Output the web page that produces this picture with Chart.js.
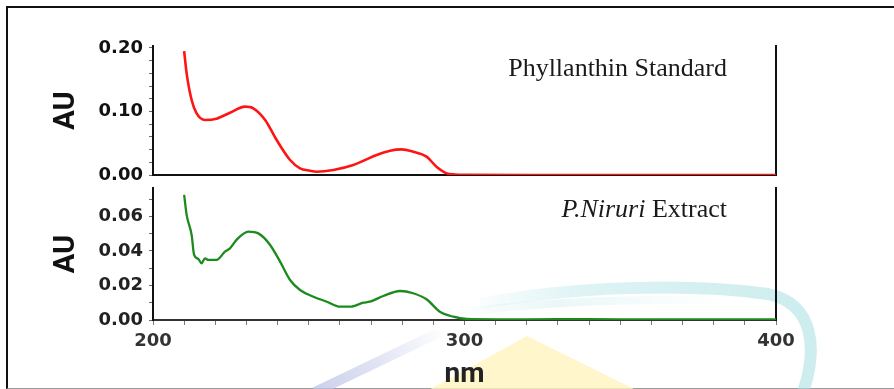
<!DOCTYPE html>
<html>
<head>
<meta charset="utf-8">
<script src="https://cdn.jsdelivr.net/npm/chart.js@4.4.1/dist/chart.umd.min.js"></script>
<style>
  html, body { margin: 0; padding: 0; background: #ffffff; }
  body { width: 894px; height: 389px; position: relative; overflow: hidden; }
  #frame { position: absolute; left: 6px; top: 6px; width: 900px; height: 383px;
           border-top: 2px solid #111; border-left: 2px solid #111; border-bottom: 1px solid #9a9a9a; box-sizing: border-box; }
  canvas { position: absolute; left: 0; top: 0; }
</style>
</head>
<body>
<div id="frame"></div>
<canvas id="bottom" width="894" height="389"></canvas>
<canvas id="top" width="894" height="389"></canvas>
<script>
// ---- data ----
const nmStandard = [210, 210.8, 212.4, 214, 216.7, 220.4, 224.7, 229.5, 232.2, 236, 239.7, 244, 247.2, 250.4, 252.5, 257.9, 264.3, 271.8, 276.1, 279.8, 283.5, 287.8, 291, 294.3, 297, 300, 320, 350, 380, 400];
const auStandard = [0.195, 0.160, 0.118, 0.097, 0.0866, 0.0887, 0.098, 0.1076, 0.105, 0.0866, 0.055, 0.0236, 0.0105, 0.0068, 0.0052, 0.0079, 0.0157, 0.0315, 0.0383, 0.0404, 0.0367, 0.0289, 0.0131, 0.0026, 0.0008, 0.0002, 0, 0, 0, 0];

const nmExtract = [210, 210.8, 212.4, 213.2, 214.5, 215.6, 216.7, 217.8, 220.4, 223.1, 224.7, 226.8, 230.6, 233.8, 237.6, 240.8, 244, 247.2, 251.5, 255.8, 260, 263.2, 267.5, 269.6, 273.9, 279.3, 283.5, 287.8, 292.1, 296.4, 300.7, 310, 320, 340, 360, 380, 400];
const auExtract = [0.0725, 0.0609, 0.0493, 0.0377, 0.0354, 0.0329, 0.0357, 0.0348, 0.0348, 0.0396, 0.0415, 0.0464, 0.0512, 0.0502, 0.0435, 0.0338, 0.0232, 0.0174, 0.0135, 0.0106, 0.0077, 0.0077, 0.0100, 0.0106, 0.0139, 0.0168, 0.0155, 0.0120, 0.0048, 0.0019, 0.0006, 0.0004, 0.0004, 0.0005, 0.0003, 0.0004, 0.0003];

const xLabeledTicks = [200, 300, 400];
const yLabeledTicksTop = [0, 0.10, 0.20];
const yLabeledTicksBottom = [0, 0.02, 0.04, 0.06];
const labelStandard = 'Phyllanthin Standard';
const labelExtractItalic = 'P.Niruri';
const labelExtractRest = ' Extract';
const xTitle = 'nm';
const yTitle = 'AU';

// ---- helpers ----
const toPoints = (xs, ys) => xs.map((x, i) => ({ x: x, y: ys[i] }));
const labelIf = (list, dec) => (v) => {
  const r = Math.round(v * 1000) / 1000;
  return list.some(t => Math.abs(t - r) < 1e-9) ? r.toFixed(dec) : '';
};
const tickFont = { family: 'DejaVu Sans', weight: 'bold', size: 18 };

function yAxis(max, step, labels, color) {
  return {
    type: 'linear', position: 'left', min: 0, max: max,
    afterFit: s => { s.width = 153; },
    ticks: { stepSize: step, includeBounds: false, maxTicksLimit: 40, autoSkip: false, padding: 6, color: color, font: tickFont, callback: labelIf(labels, 2) },
    grid: { display: true, drawOnChartArea: false, drawTicks: true, tickLength: 4, color: '#666', lineWidth: 1 },
    border: { display: true, color: '#111', width: 2 },
    title: { display: true, text: yTitle, color: '#111', font: { family: 'Roboto', weight: 'bold', size: 29, lineHeight: 1.2 }, padding: { top: 49, bottom: 0 } }
  };
}
function rightAxis() {
  return {
    type: 'linear', position: 'right', min: 0, max: 1,
    afterFit: s => { s.width = 118; },
    ticks: { display: false },
    grid: { display: false, drawTicks: false },
    border: { display: true, color: '#111', width: 2 }
  };
}

const annotate = (drawFn) => ({ id: 'annot', afterDraw(chart) { const c = chart.ctx; c.save(); drawFn(c, chart); c.restore(); } });

// watermark-like background shapes
const watermark = {
  id: 'watermark',
  beforeDraw(chart) {
    const c = chart.ctx;
    c.save();
    // yellow triangle
    c.fillStyle = 'rgba(255,244,190,0.8)';
    c.beginPath(); c.moveTo(527, 336); c.lineTo(640, 392); c.lineTo(425, 392); c.closePath(); c.fill();
    // lavender diagonal stroke
    const g = c.createLinearGradient(440, 332, 315, 392);
    g.addColorStop(0, 'rgba(205,210,236,0.05)');
    g.addColorStop(0.5, 'rgba(200,205,234,0.55)');
    g.addColorStop(1, 'rgba(190,196,230,0.8)');
    c.strokeStyle = g; c.lineWidth = 10; c.lineCap = 'butt';
    c.beginPath(); c.moveTo(440, 332); c.lineTo(315, 392); c.stroke();
    // teal arc
    const t = c.createLinearGradient(460, 0, 820, 0);
    t.addColorStop(0, 'rgba(180,228,230,0.0)');
    t.addColorStop(0.35, 'rgba(180,228,230,0.45)');
    t.addColorStop(1, 'rgba(170,224,226,0.6)');
    c.strokeStyle = t; c.lineWidth = 12;
    c.beginPath(); c.moveTo(480, 304); c.bezierCurveTo(570, 286, 690, 283, 768, 294);
    c.bezierCurveTo(815, 304, 818, 350, 802, 395); c.stroke();
    const t2 = c.createLinearGradient(450, 0, 720, 0);
    t2.addColorStop(0, 'rgba(195,232,234,0.0)');
    t2.addColorStop(0.4, 'rgba(195,232,234,0.35)');
    t2.addColorStop(1, 'rgba(195,232,234,0.0)');
    c.strokeStyle = t2; c.lineWidth = 8;
    c.beginPath(); c.moveTo(455, 313); c.bezierCurveTo(540, 302, 640, 299, 720, 300); c.stroke();
    c.restore();
  }
};

// ---- top panel ----
new Chart(document.getElementById('top'), {
  type: 'line',
  data: { datasets: [{ data: toPoints(nmStandard, auStandard), borderColor: '#ff1414', borderWidth: 2.6, pointRadius: 0, cubicInterpolationMode: 'monotone', fill: false }] },
  options: {
    responsive: false, animation: false, events: [],
    layout: { padding: { top: 46, bottom: 0, left: 0, right: 0 } },
    plugins: { legend: { display: false }, tooltip: { enabled: false } },
    scales: {
      x: { type: 'linear', min: 200, max: 400,
           afterFit: s => { s.height = 214; },
           ticks: { display: false }, grid: { display: false, drawTicks: false },
           border: { display: true, color: '#111', width: 2 } },
      y: yAxis(0.203, 0.02, yLabeledTicksTop, '#111'),
      yr: rightAxis()
    }
  },
  plugins: [annotate((c) => {
    c.fillStyle = '#1a1a1a';
    c.font = '26px "Liberation Serif"';
    c.textAlign = 'right'; c.textBaseline = 'alphabetic';
    c.fillText(labelStandard, 727, 76);
  })]
});

// ---- bottom panel ----
new Chart(document.getElementById('bottom'), {
  type: 'line',
  data: { datasets: [{ data: toPoints(nmExtract, auExtract), borderColor: '#1c8a1c', borderWidth: 2.3, pointRadius: 0, cubicInterpolationMode: 'monotone', fill: false }] },
  options: {
    responsive: false, animation: false, events: [],
    layout: { padding: { top: 188, bottom: 0, left: 0, right: 0 } },
    plugins: { legend: { display: false }, tooltip: { enabled: false } },
    scales: {
      x: { type: 'linear', min: 200, max: 400,
           afterFit: s => { s.height = 69; },
           ticks: { stepSize: 10, includeBounds: false, maxTicksLimit: 40, padding: 6, color: '#333', font: tickFont, maxRotation: 0, autoSkip: false, callback: labelIf(xLabeledTicks, 0) },
           grid: { display: true, drawOnChartArea: false, drawTicks: true, tickLength: 5, color: '#777', lineWidth: 1 },
           border: { display: true, color: '#333', width: 2 },
           title: { display: true, text: xTitle, color: '#222', font: { family: 'Roboto', weight: 'bold', size: 28, lineHeight: 1 }, padding: { top: 0, bottom: 0 } } },
      y: yAxis(0.0765, 0.01, yLabeledTicksBottom, '#222'),
      yr: rightAxis()
    }
  },
  plugins: [watermark, annotate((c) => {
    c.fillStyle = '#1a1a1a';
    c.textBaseline = 'alphabetic';
    c.font = '26px "Liberation Serif"';
    const wRest = c.measureText(labelExtractRest).width;
    c.font = 'italic 26px "Liberation Serif"';
    const wIt = c.measureText(labelExtractItalic).width;
    const right = 727, base = 217;
    c.textAlign = 'left';
    c.fillText(labelExtractItalic, right - wRest - wIt, base);
    c.font = '26px "Liberation Serif"';
    c.fillText(labelExtractRest, right - wRest, base);
  })]
});
</script>
</body>
</html>
